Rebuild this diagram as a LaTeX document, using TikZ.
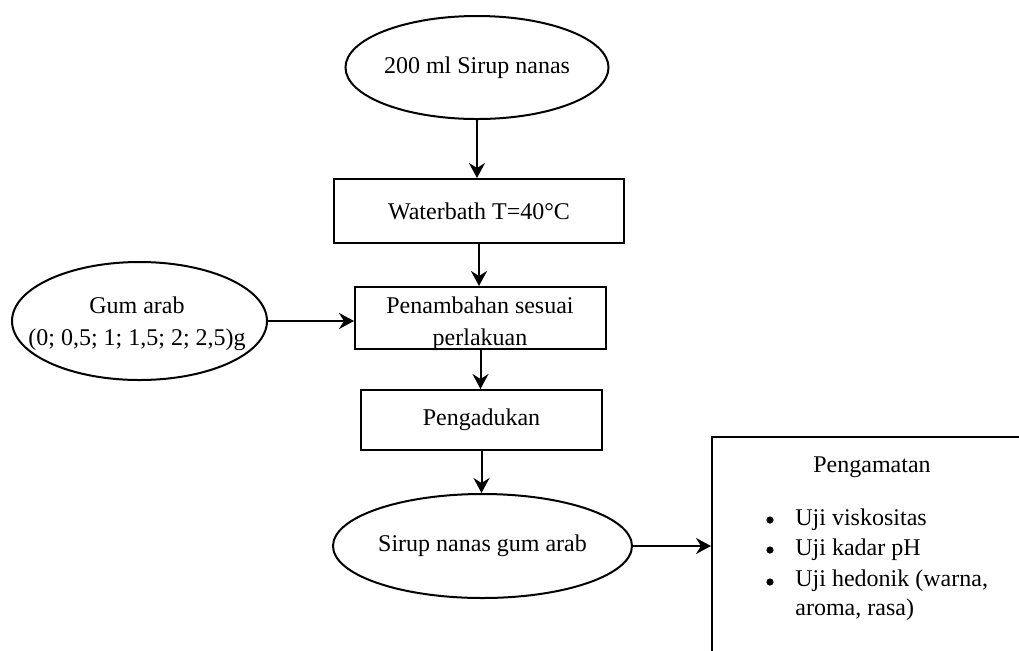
\documentclass[tikz,border=0pt]{standalone}
\usepackage{fontspec}
\setmainfont{Liberation Serif}
\usetikzlibrary{shapes.geometric,arrows.meta,calc}
\begin{document}
\begin{tikzpicture}[x=0.5pt,y=-0.5pt,
  every node/.style={font=\fontsize{12}{16}\selectfont},
  oval/.style={draw, ellipse, line width=1pt, inner sep=0pt},
  procbox/.style={draw, rectangle, line width=1pt, inner sep=0pt},
  txt/.style={align=center, inner sep=0pt},
  flow/.style={-{Stealth[length=7.5pt,width=8pt,inset=2.5pt]}, line width=1pt},
  dot/.style={circle, fill=black, inner sep=0pt, minimum size=3.6pt}]
\useasboundingbox (0,0) rectangle (1019,650);
\clip (0,0) rectangle (1019,650);

\node[oval, minimum width=131pt, minimum height=51.5pt] (start) at (477,67.5) {200 ml Sirup nanas};
\node[procbox, minimum width=145pt, minimum height=32pt] (bath) at (479,211) {Waterbath T=40°C};
\node[procbox, minimum width=125.5pt, minimum height=31pt] (add) at (480.5,318) {};
\node[txt] (addtext) at (480,323.4) {Penambahan sesuai\\perlakuan};
\node[procbox, minimum width=120.5pt, minimum height=30pt] (stir) at (481.5,420) {Pengadukan};
\node[oval, minimum width=149.5pt, minimum height=52pt] (final) at (482.5,546) {Sirup nanas gum arab};

\node[oval, minimum width=127.5pt, minimum height=59pt] (gum) at (139.5,321) {};
\node[txt] (gumtext) at (137,324) {Gum arab\\(0; 0,5; 1; 1,5; 2; 2,5)g};

\node[procbox, minimum width=164pt, minimum height=121.5pt] (obs) at (876,558.5) {};
\node[txt, anchor=base] (obstitle) at (872,472) {Pengamatan};
\node[dot] (b1) at (770,520) {};
\node[txt, anchor=base west] (i1) at (795,525) {Uji viskositas};
\node[dot] (b2) at (770,550) {};
\node[txt, anchor=base west] (i2) at (795,555) {Uji kadar pH};
\node[dot] (b3) at (770,582) {};
\node[txt, anchor=base west] (i3) at (795,586) {Uji hedonik (warna,};
\node[txt, anchor=base west] (i3b) at (795,615) {aroma, rasa)};

\draw[flow] (start.south) -- (start.south |- bath.north);
\draw[flow] (bath.south) -- (bath.south |- add.north);
\draw[flow] (add.south) -- (add.south |- stir.north);
\draw[flow] (stir.south) -- (stir.south |- final.north);
\draw[flow] (gum.east) -- (gum.east -| add.west);
\draw[flow] (final.east) -- (final.east -| obs.west);
\end{tikzpicture}
\end{document}
